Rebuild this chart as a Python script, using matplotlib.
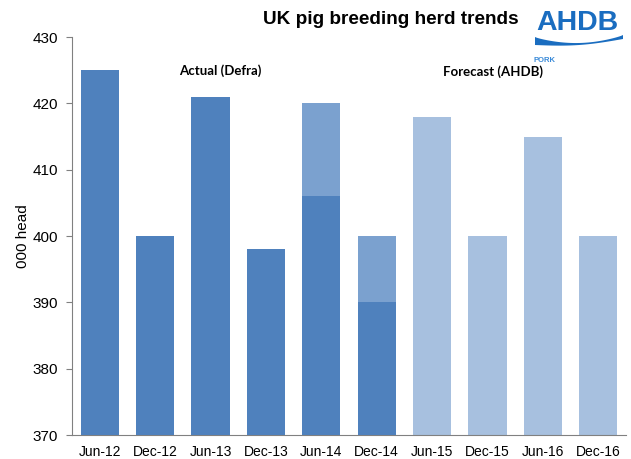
import matplotlib
matplotlib.use("Agg")
import matplotlib.pyplot as plt
import numpy as np
from matplotlib.path import Path
from matplotlib.patches import PathPatch

categories = ["Jun-12", "Dec-12", "Jun-13", "Dec-13", "Jun-14",
              "Dec-14", "Jun-15", "Dec-15", "Jun-16", "Dec-16"]
actual = [425, 400, 421, 398, 406, 390, None, None, None, None]
provisional = [None, None, None, None, 420, 400, None, None, None, None]
forecast = [None, None, None, None, None, None, 418, 400, 415, 400]
yticks = [370, 380, 390, 400, 410, 420, 430]

c_actual = "#4F81BD"
c_prov = "#7BA1CF"
c_fore = "#A7C0DF"
base = 370

fig = plt.figure(figsize=(6.31, 4.59), dpi=100)
W, H = 631, 459
ax = fig.add_axes([72 / W, 1 - 435 / H, (626 - 72) / W, (435 - 37) / H])

x = np.arange(len(categories))
bw = 0.69

def draw(series, color, z):
    xs = [xi for xi, v in zip(x, series) if v is not None]
    vs = [v - base for v in series if v is not None]
    ax.bar(xs, vs, bottom=base, width=bw, color=color, zorder=z, linewidth=0)

draw(provisional, c_prov, 2)
draw(actual, c_actual, 3)
draw(forecast, c_fore, 2)

ax.set_xlim(-0.5, len(categories) - 0.5)
ax.set_ylim(370, 430)
ax.set_yticks(yticks)
ax.set_xticks(x)
ax.set_xticklabels(categories, fontsize=10, family="Liberation Sans")
for lab in ax.get_yticklabels():
    lab.set_fontsize(11)
    lab.set_family("Liberation Sans")
ax.tick_params(axis="x", length=0, pad=7)
ax.tick_params(axis="y", length=4, color="#808080", direction="out", pad=6)
for s in ["top", "right"]:
    ax.spines[s].set_visible(False)
ax.spines["left"].set_color("#808080")
ax.spines["bottom"].set_color("#808080")
ax.set_ylabel("000 head", fontsize=11, family="Liberation Sans", labelpad=2)

fig.text(220 / W, 1 - 71 / H, "Actual (Defra)",
         ha="center", va="center", fontsize=9.5, fontweight="bold", family="Lato")
fig.text(493 / W, 1 - 72 / H, "Forecast (AHDB)",
         ha="center", va="center", fontsize=9.5, fontweight="bold", family="Lato")

fig.text(263 / W, 1 - 19 / H, "UK pig breeding herd trends", ha="left", va="center",
         fontsize=13.7, fontweight="bold", family="Liberation Sans")

# logo
logo_blue = "#1A6DC0"
fig.text(577 / W, 1 - 23 / H, "AHDB", ha="center", va="center", fontsize=20.5,
         fontweight="bold", color=logo_blue, family="Liberation Sans")
# wave
xs = np.linspace(535, 623, 50)
t = (xs - 535) / 88
top = 37 + 7 * np.sin(t * np.pi) ** 0.8 - 2 * t
bot = 45 + 3 * np.sin(t * np.pi) - 6 * t
verts = [(xx / W, 1 - yy / H) for xx, yy in zip(xs, top)] + \
        [(xx / W, 1 - yy / H) for xx, yy in zip(xs[::-1], bot[::-1])]
verts.append(verts[0])
codes = [Path.MOVETO] + [Path.LINETO] * (len(verts) - 2) + [Path.CLOSEPOLY]
fig.patches.append(PathPatch(Path(verts, codes), transform=fig.transFigure,
                             facecolor=logo_blue, edgecolor="none"))
fig.text(544 / W, 1 - 60.5 / H, "PORK", ha="center", va="center", fontsize=5.5,
         fontweight="bold", color="#3A8AD8", family="Liberation Sans")

fig.savefig("out.png", dpi=100)
